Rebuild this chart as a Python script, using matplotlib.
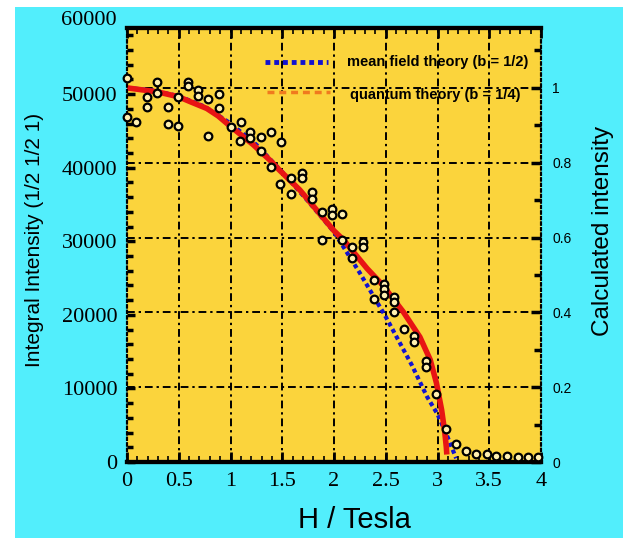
import numpy as np
import matplotlib.pyplot as plt
from matplotlib.patches import Rectangle
from matplotlib.ticker import MultipleLocator
import matplotlib.transforms as mtransforms

# measured integral intensity of the (1/2 1/2 1) peak vs field
field = [0.0, 0.0, 0.09, 0.19, 0.19, 0.29, 0.29, 0.40, 0.40, 0.49, 0.49,
         0.59, 0.59, 0.69, 0.69, 0.78, 0.78, 0.89, 0.89, 1.00, 1.10, 1.09,
         1.19, 1.19, 1.29, 1.39, 1.49, 1.29, 1.39, 1.48, 1.58, 1.69, 1.69,
         1.58, 1.79, 1.79, 1.88, 1.98, 1.98, 2.08, 1.88, 2.08, 2.17, 2.28,
         2.28, 2.17, 2.39, 2.48, 2.48, 2.39, 2.48, 2.58, 2.58, 2.58, 2.68,
         2.77, 2.77, 2.89, 2.89, 2.99, 3.08, 3.18, 3.28, 3.37, 3.48, 3.57,
         3.67, 3.78, 3.87, 3.97]
intensity = [52200, 46900, 46200, 49600, 48300, 51700, 50200, 48300, 46000,
             45700, 49600, 51700, 51100, 50600, 49800, 49300, 44300, 50000,
             48100, 45500, 46200, 43600, 44900, 44000, 44200, 44900, 43500,
             42300, 40100, 37800, 38600, 39300, 38600, 36400, 36700, 35800,
             34000, 34400, 33600, 33700, 30200, 30200, 29200, 29900, 29200,
             27700, 24700, 24200, 23500, 22200, 22700, 22400, 21800, 20400,
             18100, 17100, 16300, 13700, 12900, 9200, 4500, 2400, 1500, 1100,
             1100, 800, 800, 700, 700, 700]

# calculated curves (normalised)
h_mf = [0.0, 0.25, 0.5, 0.75, 1.0, 1.25, 1.5, 1.75, 2.0, 2.25, 2.5, 2.75,
        2.9, 3.0, 3.1, 3.18]
calc_mf = [1.0, 0.993, 0.978, 0.95, 0.905, 0.848, 0.775, 0.697, 0.615,
           0.505, 0.388, 0.26, 0.174, 0.128, 0.065, 0.01]
h_qt = [0.0, 0.3, 0.5, 0.62, 0.77, 0.88, 1.0, 1.22, 1.38, 1.47, 1.67, 2.0,
        2.09, 2.32, 2.47, 2.67, 2.83, 2.93, 2.99, 3.04, 3.07, 3.085, 3.09]
calc_qt = [1.0, 0.989, 0.976, 0.962, 0.945, 0.925, 0.897, 0.848, 0.807,
           0.781, 0.727, 0.618, 0.594, 0.517, 0.473, 0.401, 0.334, 0.273,
           0.211, 0.139, 0.08, 0.04, 0.02]

left_ticks = [0, 10000, 20000, 30000, 40000, 50000]
right_ticks = [0, 0.2, 0.4, 0.6, 0.8, 1]
x_ticks = [0, 0.5, 1, 1.5, 2, 2.5, 3, 3.5, 4]

yellow = '#FBD43C'
cyan = '#52EEFC'
grid_style = dict(color='black', linestyle=(0, (4, 2, 1.2, 2)), linewidth=1.4)

fig = plt.figure(figsize=(6.23, 5.38), dpi=100, facecolor='white')
fig.patches.append(Rectangle((15 / 623, 0), 1, 1 - 7 / 538,
                             transform=fig.transFigure, facecolor=cyan,
                             edgecolor='none', zorder=-10))

ax = fig.add_axes([127 / 623, 76 / 538, 414 / 623, 434 / 538])
ax2 = ax.twinx()
ax.set_zorder(ax2.get_zorder() + 1)
ax.patch.set_visible(False)
ax2.patch.set_visible(True)
ax2.patch.set_facecolor(yellow)

ax.set_xlim(0, 4)
ax.set_ylim(0, 59000)
ax2.set_ylim(0, 1.16)

# grid and theory curves on the right axis
ax2.grid(True, axis='y', **grid_style)
for xv in x_ticks[1:-1]:
    ax2.axvline(xv, zorder=1, **grid_style)
ax2.plot(h_mf, calc_mf, color='#1212D0', linewidth=3,
         linestyle=(0, (1, 0.8)), zorder=3)
ax2.plot(h_qt, calc_qt, color='#E81414', linewidth=4, zorder=4,
         solid_capstyle='butt', solid_joinstyle='round')

ax.plot(field, intensity, 'o', markersize=5.5, markerfacecolor='#FFF0B0',
        markeredgecolor='black', markeredgewidth=1.6, linestyle='none',
        zorder=5, clip_on=False)

# legend drawn by hand inside the frame
ax2.plot([0.333, 0.486], [0.922, 0.922], transform=ax2.transAxes,
         color='#1212D0', linewidth=3.5, linestyle=(0, (1, 0.8)))
ax2.plot([0.338, 0.49], [0.853, 0.853], transform=ax2.transAxes,
         color='#F07A1E', linewidth=2.5, linestyle=(0, (2, 1.4)))
ax2.text(0.531, 0.922, 'mean field theory (b = 1/2)', transform=ax2.transAxes,
         fontsize=10.5, fontweight='bold', family='Liberation Sans',
         va='center', ha='left')
ax2.text(0.539, 0.845, 'quantum theory (b = 1/4)', transform=ax2.transAxes,
         fontsize=10.5, fontweight='bold', family='Liberation Sans',
         va='center', ha='left')

# ticks
ax.set_xticks(x_ticks)
ax.set_xticklabels(['0', '0.5', '1', '1.5', '2', '2.5', '3', '3.5', '4'],
                   family='Liberation Serif', fontsize=16)
ax.xaxis.set_minor_locator(MultipleLocator(0.1))
ax.set_yticks(left_ticks)
ax.set_yticklabels([str(v) for v in left_ticks],
                   family='Liberation Serif', fontsize=16)
ax.yaxis.set_minor_locator(MultipleLocator(2000))
ax2.set_yticks(right_ticks)
ax2.set_yticklabels(['0', '0.2', '0.4', '0.6', '0.8', '1'],
                    family='Liberation Sans', fontsize=10)
ax2.yaxis.set_minor_locator(MultipleLocator(0.1))

ax.tick_params(axis='x', which='both', direction='in', top=True, pad=7)
ax.tick_params(axis='x', which='major', length=7, width=2)
ax.tick_params(axis='x', which='minor', length=4, width=1.2)
ax.tick_params(axis='y', which='both', direction='in', pad=7)
ax.tick_params(axis='y', which='major', length=6, width=2.5)
ax.tick_params(axis='y', which='minor', length=4, width=2.5)
ax2.tick_params(axis='y', which='both', direction='in', pad=8)
ax2.tick_params(axis='y', which='major', length=7, width=2.5)
ax2.tick_params(axis='y', which='minor', length=5, width=2.5)

# the top label sits above the frame
trans = mtransforms.blended_transform_factory(ax.transAxes, ax.transData)
ax.text(-0.024, 60000, '60000', transform=trans, ha='right', va='center',
        family='Liberation Serif', fontsize=16, clip_on=False)

for a in (ax, ax2):
    a.spines['top'].set_linewidth(3)
    a.spines['bottom'].set_linewidth(3)
    a.spines['left'].set_linestyle(':')
    a.spines['right'].set_linestyle(':')
    a.spines['left'].set_linewidth(1.5)
    a.spines['right'].set_linewidth(1.5)

fig.text(35 / 623, 1 - 240 / 538, 'Integral Intensity (1/2 1/2 1)',
         rotation=90, ha='center', va='center', family='Liberation Sans',
         fontsize=15)
fig.text(603 / 623, 1 - 231 / 538, 'Calculated intensity', rotation=90,
         ha='center', va='center', family='Liberation Sans', fontsize=17.5)
fig.text(354 / 623, 1 - 520 / 538, 'H / Tesla', ha='center', va='center',
         family='Liberation Sans', fontsize=21)

fig.savefig('out.png', dpi=100, facecolor=fig.get_facecolor())
